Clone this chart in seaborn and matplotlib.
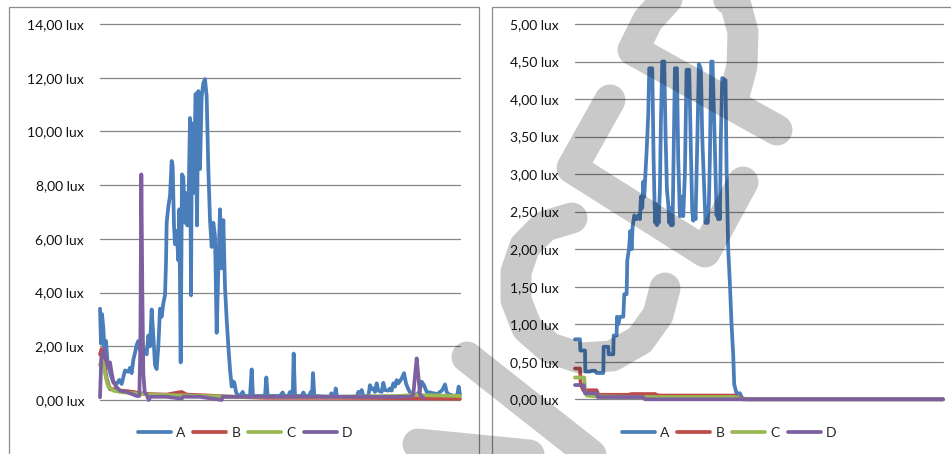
import matplotlib
matplotlib.use("Agg")
import matplotlib.pyplot as plt
from matplotlib.patches import Rectangle, PathPatch
from matplotlib.path import Path
from matplotlib.ticker import FixedLocator, FuncFormatter
import seaborn as sns

# ---------------- data: left chart (lux, sample index) ----------------
left_a_idx = [0, 3, 6, 10, 13, 18, 22, 27, 33, 40, 50, 58, 65, 75, 85, 90, 95, 100, 105, 110,
              115, 120, 125, 130, 135, 140, 145, 150, 155, 160, 165, 170, 175, 180, 185, 190,
              195, 198, 200, 205, 210, 215, 218, 222, 225, 230, 235, 238, 242, 246, 250, 255,
              258, 262, 266, 270, 273, 276, 280, 283, 287, 291, 295, 300, 305, 310, 315, 320,
              325, 330, 335, 340, 345, 350, 355, 360, 365, 370, 375, 380, 385, 390, 395, 398,
              403, 408, 412, 420, 428, 433, 450, 455, 459, 495, 499, 503, 540, 548, 553, 565,
              570, 575, 578, 581, 585, 605, 610, 615, 628, 632, 636, 639, 643, 690, 694, 698,
              704, 707, 711, 770, 775, 780, 785, 790, 805, 810, 815, 820, 825, 830, 835, 845,
              850, 855, 865, 870, 875, 880, 885, 890, 895, 905, 912, 918, 925, 932, 940, 950,
              958, 965, 972, 980, 990, 1000, 1012, 1020, 1027, 1035, 1040, 1045, 1055, 1065,
              1072, 1076, 1080]
left_a_lux = [3.4, 2.1, 3.2, 2.7, 2.0, 2.2, 1.5, 1.2, 0.9, 0.65, 0.6, 0.75, 0.6, 1.1, 1.05, 1.2,
              1.0, 1.5, 1.75, 2.05, 2.2, 1.85, 1.9, 1.75, 1.85, 1.7, 2.4, 2.0, 3.37, 2.4, 1.3,
              1.15, 2.0, 3.4, 3.1, 3.6, 3.9, 5.1, 6.6, 7.2, 7.6, 8.9, 8.7, 6.5, 5.8, 6.3, 5.2,
              7.1, 1.4, 8.4, 8.3, 6.6, 7.7, 6.5, 7.6, 10.5, 3.9, 10.3, 7.7, 9.3, 11.4, 6.5,
              11.5, 8.6, 11.3, 11.8, 11.95, 11.3, 8.6, 6.7, 5.7, 6.6, 6.1, 2.5, 4.9, 7.1, 4.9,
              6.7, 4.2, 3.0, 2.0, 1.15, 0.5, 0.7, 0.65, 0.3, 0.2, 0.15, 0.3, 0.15, 0.15, 1.14,
              0.15, 0.15, 0.84, 0.15, 0.15, 0.28, 0.15, 0.15, 0.3, 0.15, 0.15, 1.73, 0.15, 0.15,
              0.28, 0.15, 0.15, 0.3, 0.15, 1.0, 0.15, 0.12, 0.25, 0.12, 0.12, 0.43, 0.12, 0.12,
              0.3, 0.2, 0.37, 0.15, 0.15, 0.55, 0.4, 0.43, 0.3, 0.62, 0.35, 0.3, 0.64, 0.37,
              0.35, 0.43, 0.35, 0.62, 0.5, 0.74, 0.62, 0.8, 1.0, 0.62, 0.4, 0.25, 0.2, 0.2, 0.3,
              0.68, 0.55, 0.3, 0.28, 0.25, 0.22, 0.3, 0.37, 0.58, 0.3, 0.22, 0.18, 0.15, 0.2,
              0.5, 0.2]

left_b_idx = [0, 5, 10, 15, 20, 25, 30, 40, 60, 80, 100, 120, 150, 200, 230, 245, 260, 300,
              400, 500, 700, 900, 1080]
left_b_lux = [1.7, 1.9, 1.6, 1.2, 0.8, 0.6, 0.4, 0.4, 0.35, 0.33, 0.3, 0.25, 0.22, 0.2, 0.27,
              0.3, 0.2, 0.18, 0.12, 0.08, 0.08, 0.07, 0.05]

left_c_idx = [0, 5, 10, 15, 20, 25, 30, 40, 60, 100, 150, 300, 400, 700, 900, 950, 960, 1080]
left_c_lux = [1.3, 1.5, 1.4, 1.0, 0.7, 0.5, 0.45, 0.35, 0.3, 0.25, 0.2, 0.15, 0.12, 0.12,
              0.15, 0.2, 0.18, 0.15]

left_d_idx = [0, 4, 12, 18, 25, 30, 35, 40, 48, 60, 80, 100, 110, 118, 121, 124, 127, 130,
              134, 140, 146, 152, 200, 245, 250, 300, 365, 368, 380, 500, 700, 930, 940, 945,
              950, 955, 960, 970]
left_d_lux = [0.1, 1.6, 1.9, 1.5, 1.2, 1.4, 1.0, 0.7, 0.5, 0.35, 0.3, 0.2, 0.15, 0.15, 2.0,
              8.4, 4.0, 1.0, 0.3, 0.2, 0.0, 0.12, 0.12, 0.05, 0.12, 0.12, 0.0, 0.12, 0.12,
              0.12, 0.12, 0.12, 0.2, 0.9, 1.55, 0.9, 0.2, 0.08]

# ---------------- data: right chart ----------------
right_a_idx = [0, 15, 16, 30, 31, 45, 50, 60, 65, 85, 86, 100, 101, 115, 116, 125, 126, 130,
               135, 145, 148, 155, 157, 162, 166, 170, 173, 178, 185, 190, 195, 198, 202, 205,
               208, 212, 215, 220, 223, 232, 236, 239, 241, 244, 246, 249, 251, 255, 258, 262,
               268, 272, 276, 280, 283, 286, 288, 291, 293, 297, 300, 306, 310, 315, 318, 320,
               323, 325, 330, 335, 343, 348, 352, 355, 358, 362, 368, 372, 378, 382, 388, 392,
               395, 398, 402, 405, 409, 413, 418, 422, 425, 428, 430, 433, 435, 438, 442, 452,
               455, 460, 465, 470, 475, 478, 485, 495, 500, 505, 1105]
right_a_lux = [0.8, 0.8, 0.65, 0.65, 0.37, 0.37, 0.38, 0.38, 0.35, 0.35, 0.7, 0.7, 0.6, 0.6,
               0.85, 0.85, 1.1, 1.0, 1.1, 1.1, 1.4, 1.4, 1.85, 2.0, 2.24, 2.0, 2.3, 2.45, 2.4,
               2.45, 2.4, 2.7, 2.55, 2.9, 2.7, 3.05, 3.3, 3.8, 4.41, 4.41, 3.2, 2.6, 2.35, 2.6,
               2.32, 2.5, 2.35, 2.8, 3.7, 4.5, 4.5, 3.5, 2.8, 2.6, 2.35, 2.55, 2.32, 2.5, 2.32,
               3.5, 4.41, 4.41, 3.2, 2.44, 2.6, 2.45, 2.7, 2.44, 3.0, 4.39, 4.39, 3.3, 2.5,
               2.38, 2.55, 2.4, 3.6, 4.47, 4.4, 3.5, 2.8, 2.35, 2.5, 2.35, 2.6, 3.2, 4.5, 4.5,
               3.7, 3.0, 2.45, 2.6, 2.4, 2.55, 2.4, 3.5, 4.28, 4.25, 3.1, 2.0, 1.55, 1.0, 0.6,
               0.2, 0.08, 0.08, 0.03, 0.0, 0.0]

right_b_idx = [0, 15, 17, 25, 65, 70, 160, 170, 240, 250, 480, 490, 520, 1105]
right_b_lux = [0.41, 0.41, 0.2, 0.12, 0.12, 0.06, 0.06, 0.07, 0.07, 0.05, 0.05, 0.02, 0.0, 0.0]

right_c_idx = [0, 28, 30, 35, 60, 200, 480, 500, 1105]
right_c_lux = [0.29, 0.29, 0.1, 0.05, 0.04, 0.03, 0.03, 0.0, 0.0]

right_d_idx = [0, 26, 30, 65, 68, 204, 210, 1105]
right_d_lux = [0.19, 0.19, 0.08, 0.08, 0.03, 0.03, 0.0, 0.0]

series_names = ["A", "B", "C", "D"]
series_colors = ["#4A7EBB", "#BE4B48", "#98B954", "#7D60A0"]

left_ticks = [0, 2, 4, 6, 8, 10, 12, 14]
right_ticks = [0, 0.5, 1, 1.5, 2, 2.5, 3, 3.5, 4, 4.5, 5]

# ---------------- figure ----------------
sns.set_theme(style="white")
plt.rcParams["font.family"] = ["Lato", "DejaVu Sans"]

W, H = 951, 454
DPI = 100
fig = plt.figure(figsize=(W / DPI, H / DPI), dpi=DPI)
fig.patch.set_facecolor("white")


def fx(x):
    return x / W


def fy(y):
    return 1 - y / H


def lux_fmt(v, _pos):
    return f"{v:.2f}".replace(".", ",") + " lux"


# size the text so a tick label spans about 57 px
renderer = fig.canvas.get_renderer()
probe = fig.text(0, 0, lux_fmt(14, None), fontsize=10)
probe_w = probe.get_window_extent(renderer).width
probe.remove()
FS = 10 * 57 / probe_w
EM = FS * DPI / 72  # pixels per em


def make_panel(rect, xmax, ymax, ticks, data, legend_center):
    ax = fig.add_axes(rect)
    ax.set_facecolor("none")
    for name, color, (xs, ys) in zip(series_names, series_colors, data):
        sns.lineplot(x=xs, y=ys, ax=ax, color=color, linewidth=2.7, label=name,
                     estimator=None, sort=False)
    ax.set_xlim(0, xmax)
    ax.set_ylim(0, ymax)
    ax.yaxis.set_major_locator(FixedLocator(ticks))
    ax.yaxis.set_major_formatter(FuncFormatter(lux_fmt))
    ax.set_xticks([])
    ax.set_xlabel("")
    ax.set_ylabel("")
    for s in ax.spines.values():
        s.set_visible(False)
    for t in ticks:
        ax.axhline(t, color="#868686", linewidth=0.9, zorder=0.5)
    ax.tick_params(axis="y", length=0, pad=16 * 72 / DPI, labelsize=FS,
                   labelcolor="#111111")
    for line in ax.get_lines():
        line.set_clip_on(False)
        line.set_solid_joinstyle("round")
    ax.legend(loc="center", bbox_to_anchor=legend_center, bbox_transform=fig.transFigure,
              ncol=4, frameon=False, fontsize=FS, handlelength=33 / EM,
              handletextpad=5 / EM, columnspacing=8 / EM, borderpad=0)
    return ax


ax_left = make_panel(
    [fx(100), fy(400), fx(460) - fx(100), fy(24) - fy(400)],
    1080, 14, left_ticks,
    [(left_a_idx, left_a_lux), (left_b_idx, left_b_lux),
     (left_c_idx, left_c_lux), (left_d_idx, left_d_lux)],
    (fx(245), fy(433)))

ax_right = make_panel(
    [fx(575), fy(399.3), fx(943) - fx(575), fy(24) - fy(399.3)],
    1105, 5, right_ticks,
    [(right_a_idx, right_a_lux), (right_b_idx, right_b_lux),
     (right_c_idx, right_c_lux), (right_d_idx, right_d_lux)],
    (fx(729), fy(433)))

# chart area frames
for x0, x1 in [(8.5, 478.5), (491.5, 970)]:
    fig.add_artist(Rectangle((fx(x0), fy(470)), fx(x1) - fx(x0), fy(7.5) - fy(470),
                             transform=fig.transFigure, fill=False,
                             edgecolor="#8C8C8C", linewidth=0.9, zorder=1))

# translucent watermark strokes on top of everything
strokes = [
    [(418, 444), (600, 462), (467, 357)],
    [(572, 218), (545, 226), (525, 246), (516, 272), (516, 300), (527, 328), (550, 348),
     (580, 358), (612, 356), (640, 340), (658, 315), (665, 288)],
    [(610, 100), (572, 168), (705, 252), (743, 182)],
    [(777, 130), (633, 50), (648, 20), (668, -2), (705, -12), (735, 2), (743, 32),
     (742, 66), (733, 100)],
]
verts, codes = [], []
for st in strokes:
    for i, (x, y) in enumerate(st):
        verts.append((fx(x), fy(y)))
        codes.append(Path.MOVETO if i == 0 else Path.LINETO)
wm = PathPatch(Path(verts, codes), transform=fig.transFigure, fill=False,
               edgecolor=(0, 0, 0, 0.21), linewidth=22.3, capstyle="round",
               joinstyle="round", zorder=20)
fig.add_artist(wm)

fig.savefig("out.png", dpi=DPI)
